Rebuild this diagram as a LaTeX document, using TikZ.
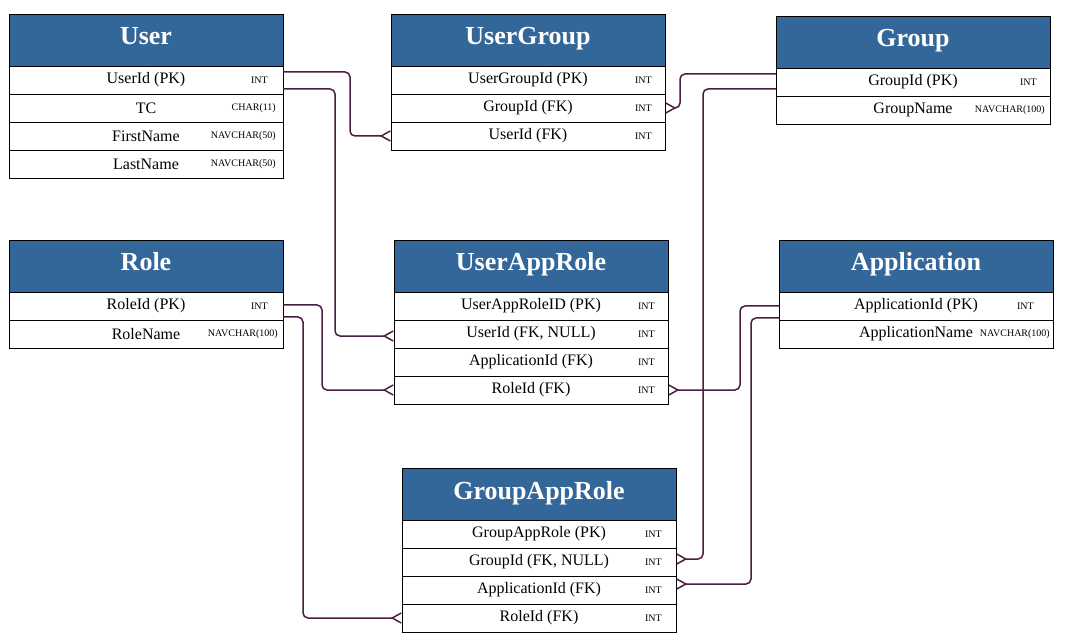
\documentclass[tikz,border=0pt]{standalone}
\usepackage{fontspec}
\setmainfont{Liberation Serif}
\usetikzlibrary{positioning,arrows.meta}

\definecolor{hdr}{RGB}{51,102,153}
\definecolor{rel}{RGB}{75,30,65}

% #1 name, #2 node above, #3 field, #4 type, #5 gap to the right edge
\newcommand{\attr}[5]{%
  \node[field, below=0pt of #2] (#1) {#3};
  \node[dtype, left=#5 of #1.east] (#1-t) {#4};}

\begin{document}
\begin{tikzpicture}[x=1pt, y=-1pt,
    head/.style={draw=black, fill=hdr, text=white, font=\fontsize{26}{30}\selectfont\bfseries,
      minimum width=274pt, minimum height=52pt, inner sep=0pt, outer sep=0pt,
      text height=19pt, text depth=9pt, anchor=north west},
    field/.style={draw=black, fill=white, font=\fontsize{16}{18}\selectfont,
      minimum width=274pt, minimum height=28pt, inner sep=0pt, outer sep=0pt},
    dtype/.style={font=\fontsize{10}{11}\selectfont, inner sep=0pt},
    link/.style={draw=rel, line width=1.5pt, rounded corners=5pt,
      -{Straight Barb[reversed, length=9pt, width=10pt]}}]
    \useasboundingbox (0,0) rectangle (1069,639);
    % Tables
    \node[head] at (9,14) (u-head) {User};
    \attr{u-id}{u-head}{UserId (PK)}{INT}{15pt}
    \attr{u-tc}{u-id}{TC}{CHAR(11)}{7pt}
    \attr{u-first}{u-tc}{FirstName}{NAVCHAR(50)}{7pt}
    \attr{u-last}{u-first}{LastName}{NAVCHAR(50)}{7pt}

    \node[head] at (391,14) (ug-head) {UserGroup};
    \attr{ug-id}{ug-head}{UserGroupId (PK)}{INT}{13pt}
    \attr{ug-gid}{ug-id}{GroupId (FK)}{INT}{13pt}
    \attr{ug-uid}{ug-gid}{UserId (FK)}{INT}{13pt}

    \node[head] at (776,16) (g-head) {Group};
    \attr{g-id}{g-head}{GroupId (PK)}{INT}{13pt}
    \attr{g-name}{g-id}{GroupName}{NAVCHAR(100)}{5pt}

    \node[head] at (9,240) (r-head) {Role};
    \attr{r-id}{r-head}{RoleId (PK)}{INT}{15pt}
    \attr{r-name}{r-id}{RoleName}{NAVCHAR(100)}{5pt}

    \node[head] at (394,240) (uar-head) {UserAppRole};
    \attr{uar-id}{uar-head}{UserAppRoleID (PK)}{INT}{13pt}
    \attr{uar-uid}{uar-id}{UserId (FK, NULL)}{INT}{13pt}
    \attr{uar-aid}{uar-uid}{ApplicationId (FK)}{INT}{13pt}
    \attr{uar-rid}{uar-aid}{RoleId (FK)}{INT}{13pt}

    \node[head] at (779,240) (a-head) {Application};
    \attr{a-id}{a-head}{ApplicationId (PK)}{INT}{19pt}
    \attr{a-name}{a-id}{ApplicationName}{NAVCHAR(100)}{3pt}

    \node[head] at (402,468) (gar-head) {GroupAppRole};
    \attr{gar-id}{gar-head}{GroupAppRole (PK)}{INT}{14pt}
    \attr{gar-gid}{gar-id}{GroupId (FK, NULL)}{INT}{14pt}
    \attr{gar-aid}{gar-gid}{ApplicationId (FK)}{INT}{14pt}
    \attr{gar-rid}{gar-aid}{RoleId (FK)}{INT}{14pt}
    % Relations
    \draw[link] ([yshift=8pt]u-id.east) -- ++(67,0) |- (ug-uid.west);
    \draw[link] ([yshift=-9pt]u-id.east) -- ++(52,0) |- ([yshift=-2pt]uar-uid.west);
    \draw[link] ([yshift=8pt]g-id.west) -- ++(-96,0) |- (ug-gid.east);
    \draw[link] ([yshift=-7pt]g-id.west) -- ++(-73,0) |- ([yshift=3pt]gar-gid.east);
    \draw[link] ([yshift=1pt]r-id.east) -- ++(39,0) |- (uar-rid.west);
    \draw[link] ([yshift=-11pt]r-id.east) -- ++(20,0) |- (gar-rid.west);
    \draw[link] (a-id.west) -- ++(-39,0) |- (uar-rid.east);
    \draw[link] ([yshift=-12pt]a-id.west) -- ++(-28,0) |- ([yshift=6pt]gar-aid.east);
  \end{tikzpicture}
\end{document}
